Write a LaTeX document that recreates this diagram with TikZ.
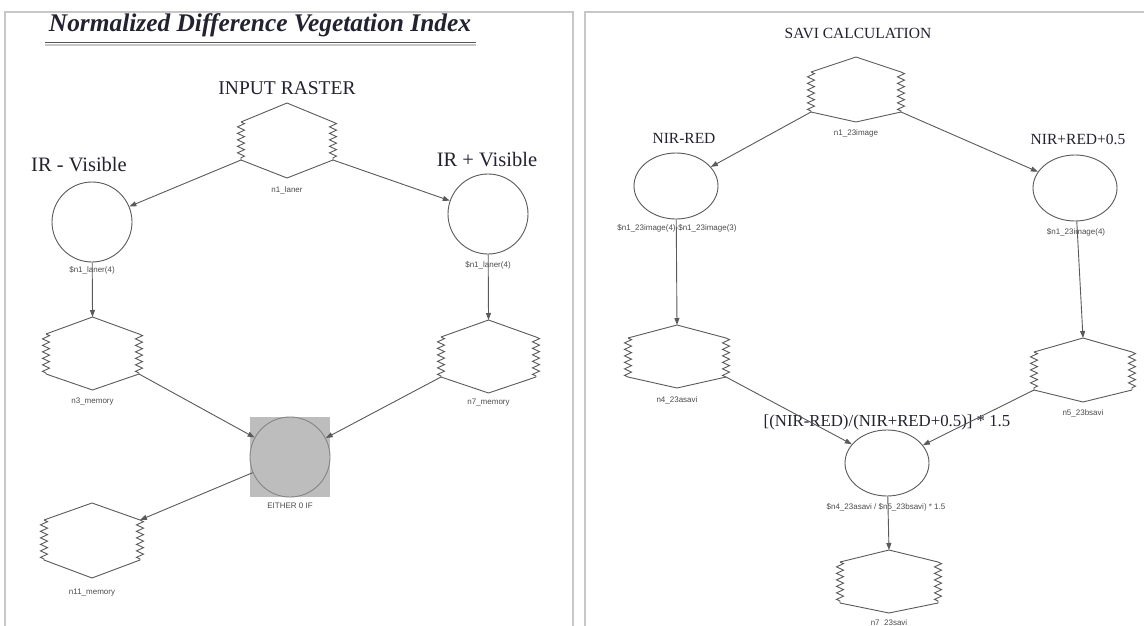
\documentclass[tikz,border=0pt]{standalone}
\usepackage{fontspec}
\setmainfont{Liberation Serif}
\newfontfamily\labfont{Liberation Sans}
\usetikzlibrary{arrows.meta,shapes.geometric,decorations.pathmorphing}
\definecolor{ink}{HTML}{222230}
\definecolor{edge}{HTML}{5A5A5A}
% #1 name, #2 left x, #3 right x, #4 top y, #5 upper shoulder y, #6 lower shoulder y, #7 bottom y, #8 label, #9 label y
\newcommand\hexnode[9]{%
  \coordinate (#1-t) at ({(#2+#3)/2},#4);
  \coordinate (#1-tl) at (#2,#5);
  \coordinate (#1-tr) at (#3,#5);
  \coordinate (#1-bl) at (#2,#6);
  \coordinate (#1-br) at (#3,#6);
  \coordinate (#1-b) at ({(#2+#3)/2},#7);
  \draw[hexline] (#1-tl) -- (#1-t) -- (#1-tr);
  \draw[hexline] (#1-bl) -- (#1-b) -- (#1-br);
  \draw[zig] (#1-tl) -- (#1-bl);
  \draw[zig] (#1-tr) -- (#1-br);
  \node[small] (#1-lab) at ({(#2+#3)/2},#9) {#8};
}
\begin{document}
\begin{tikzpicture}[x=1pt,y=-1pt,
  frame/.style={draw=black!22,line width=1.6pt},
  hexline/.style={draw=edge,line width=0.9pt},
  zig/.style={hexline,decorate,decoration={zigzag,segment length=6.5pt,amplitude=3.5pt}},
  arr/.style={draw=edge,line width=0.9pt,-{Triangle[length=7pt,width=5pt]}},
  circ/.style={circle,draw=edge,line width=0.9pt,minimum size=80pt,inner sep=0pt},
  ell/.style={ellipse,draw=edge,line width=0.9pt,minimum width=84pt,minimum height=66pt,inner sep=0pt},
  small/.style={font=\labfont\fontsize{8}{9}\selectfont,text=black!70,inner sep=0pt},
  big/.style={font=\fontsize{19.5}{22}\selectfont,text=ink,inner sep=0pt},
  med/.style={font=\fontsize{15.5}{18}\selectfont,text=ink,inner sep=0pt},
  ttl/.style={font=\bfseries\itshape\fontsize{25.4}{28}\selectfont,text=ink,inner sep=0pt},
]
\useasboundingbox (0,0) rectangle (1144,626);
\fill[white] (0,0) rectangle (1144,626);
% panel frames
\draw[frame] (5,626) -- (5,12) -- (573,12) -- (573,626);
\draw[frame] (585,626) -- (585,12) -- (1146,12);

% ---------------- left panel ----------------
\node[ttl] (title) at (260,25.5) {Normalized Difference Vegetation Index};
\draw[black!22,line width=1.6pt] (45,45) -- (476,45);
\draw[black!65,line width=1.4pt] (45,42.5) -- (476,42.5);

\node[big] (inlab) at (287,88) {INPUT RASTER};
\hexnode{n1}{241}{333}{103}{122}{160}{178}{n1\_laner}{190}

\node[big,font=\fontsize{20.5}{22}\selectfont] (irmlab) at (79,165) {IR - Visible};
\node[circ] (c1) at (92,222) {};
\node[small] (c1lab) at (92,270) {\$n1\_laner(4)};

\node[big,font=\fontsize{20.5}{22}\selectfont] (irplab) at (487,160) {IR + Visible};
\node[circ] (c2) at (488,214) {};
\node[small] (c2lab) at (488,265) {\$n1\_laner(4)};

\hexnode{n3}{46}{139}{317}{334}{374}{390}{n3\_memory}{402}
\hexnode{n7}{441}{536}{320}{337}{377}{393}{n7\_memory}{403}

\node[fill=black!26,minimum size=80pt,inner sep=0pt] (sq) at (290,457) {};
\node[circle,fill=black!26,draw=black!48,line width=0.9pt,minimum size=80pt,inner sep=0pt] (either) at (290,457) {};
\node[small] (eitherlab) at (290,506) {EITHER 0 IF};

\hexnode{n11}{44}{140}{503}{520}{560}{578}{n11\_memory}{593}

\draw[arr] (n1-bl) -- (c1);
\draw[arr] (n1-br) -- (c2);
\draw[arr] (c1) -- (n3-t);
\draw[arr] (c2) -- (n7-t);
\draw[arr] (n3-br) -- (either);
\draw[arr] (n7-bl) -- (either);
\draw[arr] (either) -- (n11-tr);

% ---------------- right panel ----------------
\node[med] (savi) at (858,33) {SAVI CALCULATION};
\hexnode{r1}{811}{901}{57}{72}{112}{122}{n1\_23image}{133}

\node[med] (nrlab) at (684,138) {NIR-RED};
\node[ell] (e1) at (676,186) {};
\node[small] (e1lab) at (677,228) {\$n1\_23image(4)-\$n1\_23image(3)};

\node[med] (nplab) at (1078,139) {NIR+RED+0.5};
\node[ell] (e2) at (1075,188) {};
\node[small] (e2lab) at (1076,232) {\$n1\_23image(4)};

\hexnode{r4}{628}{726}{325}{338}{377}{388}{n4\_23asavi}{400}
\hexnode{r5}{1034}{1132}{338}{352}{390}{402}{n5\_23bsavi}{413}

\node[med,font=\fontsize{16.8}{19}\selectfont] (form) at (887,422) {[(NIR-RED)/(NIR+RED+0.5)] * 1.5};
\node[ell] (e3) at (887,463) {};
\node[small] (e3lab) at (886,507) {\$n4\_23asavi / \$n5\_23bsavi) * 1.5};

\hexnode{r7}{840}{938}{550}{562}{603}{613}{n7\_23savi}{623}

\draw[arr] (r1-bl) -- (e1);
\draw[arr] (r1-br) -- (e2);
\draw[arr] (e1) -- (r4-t);
\draw[arr] (e2) -- (r5-t);
\draw[arr] (r4-br) -- (e3);
\draw[arr] (r5-bl) -- (e3);
\draw[arr] (e3) -- (r7-t);
\end{tikzpicture}
\end{document}
